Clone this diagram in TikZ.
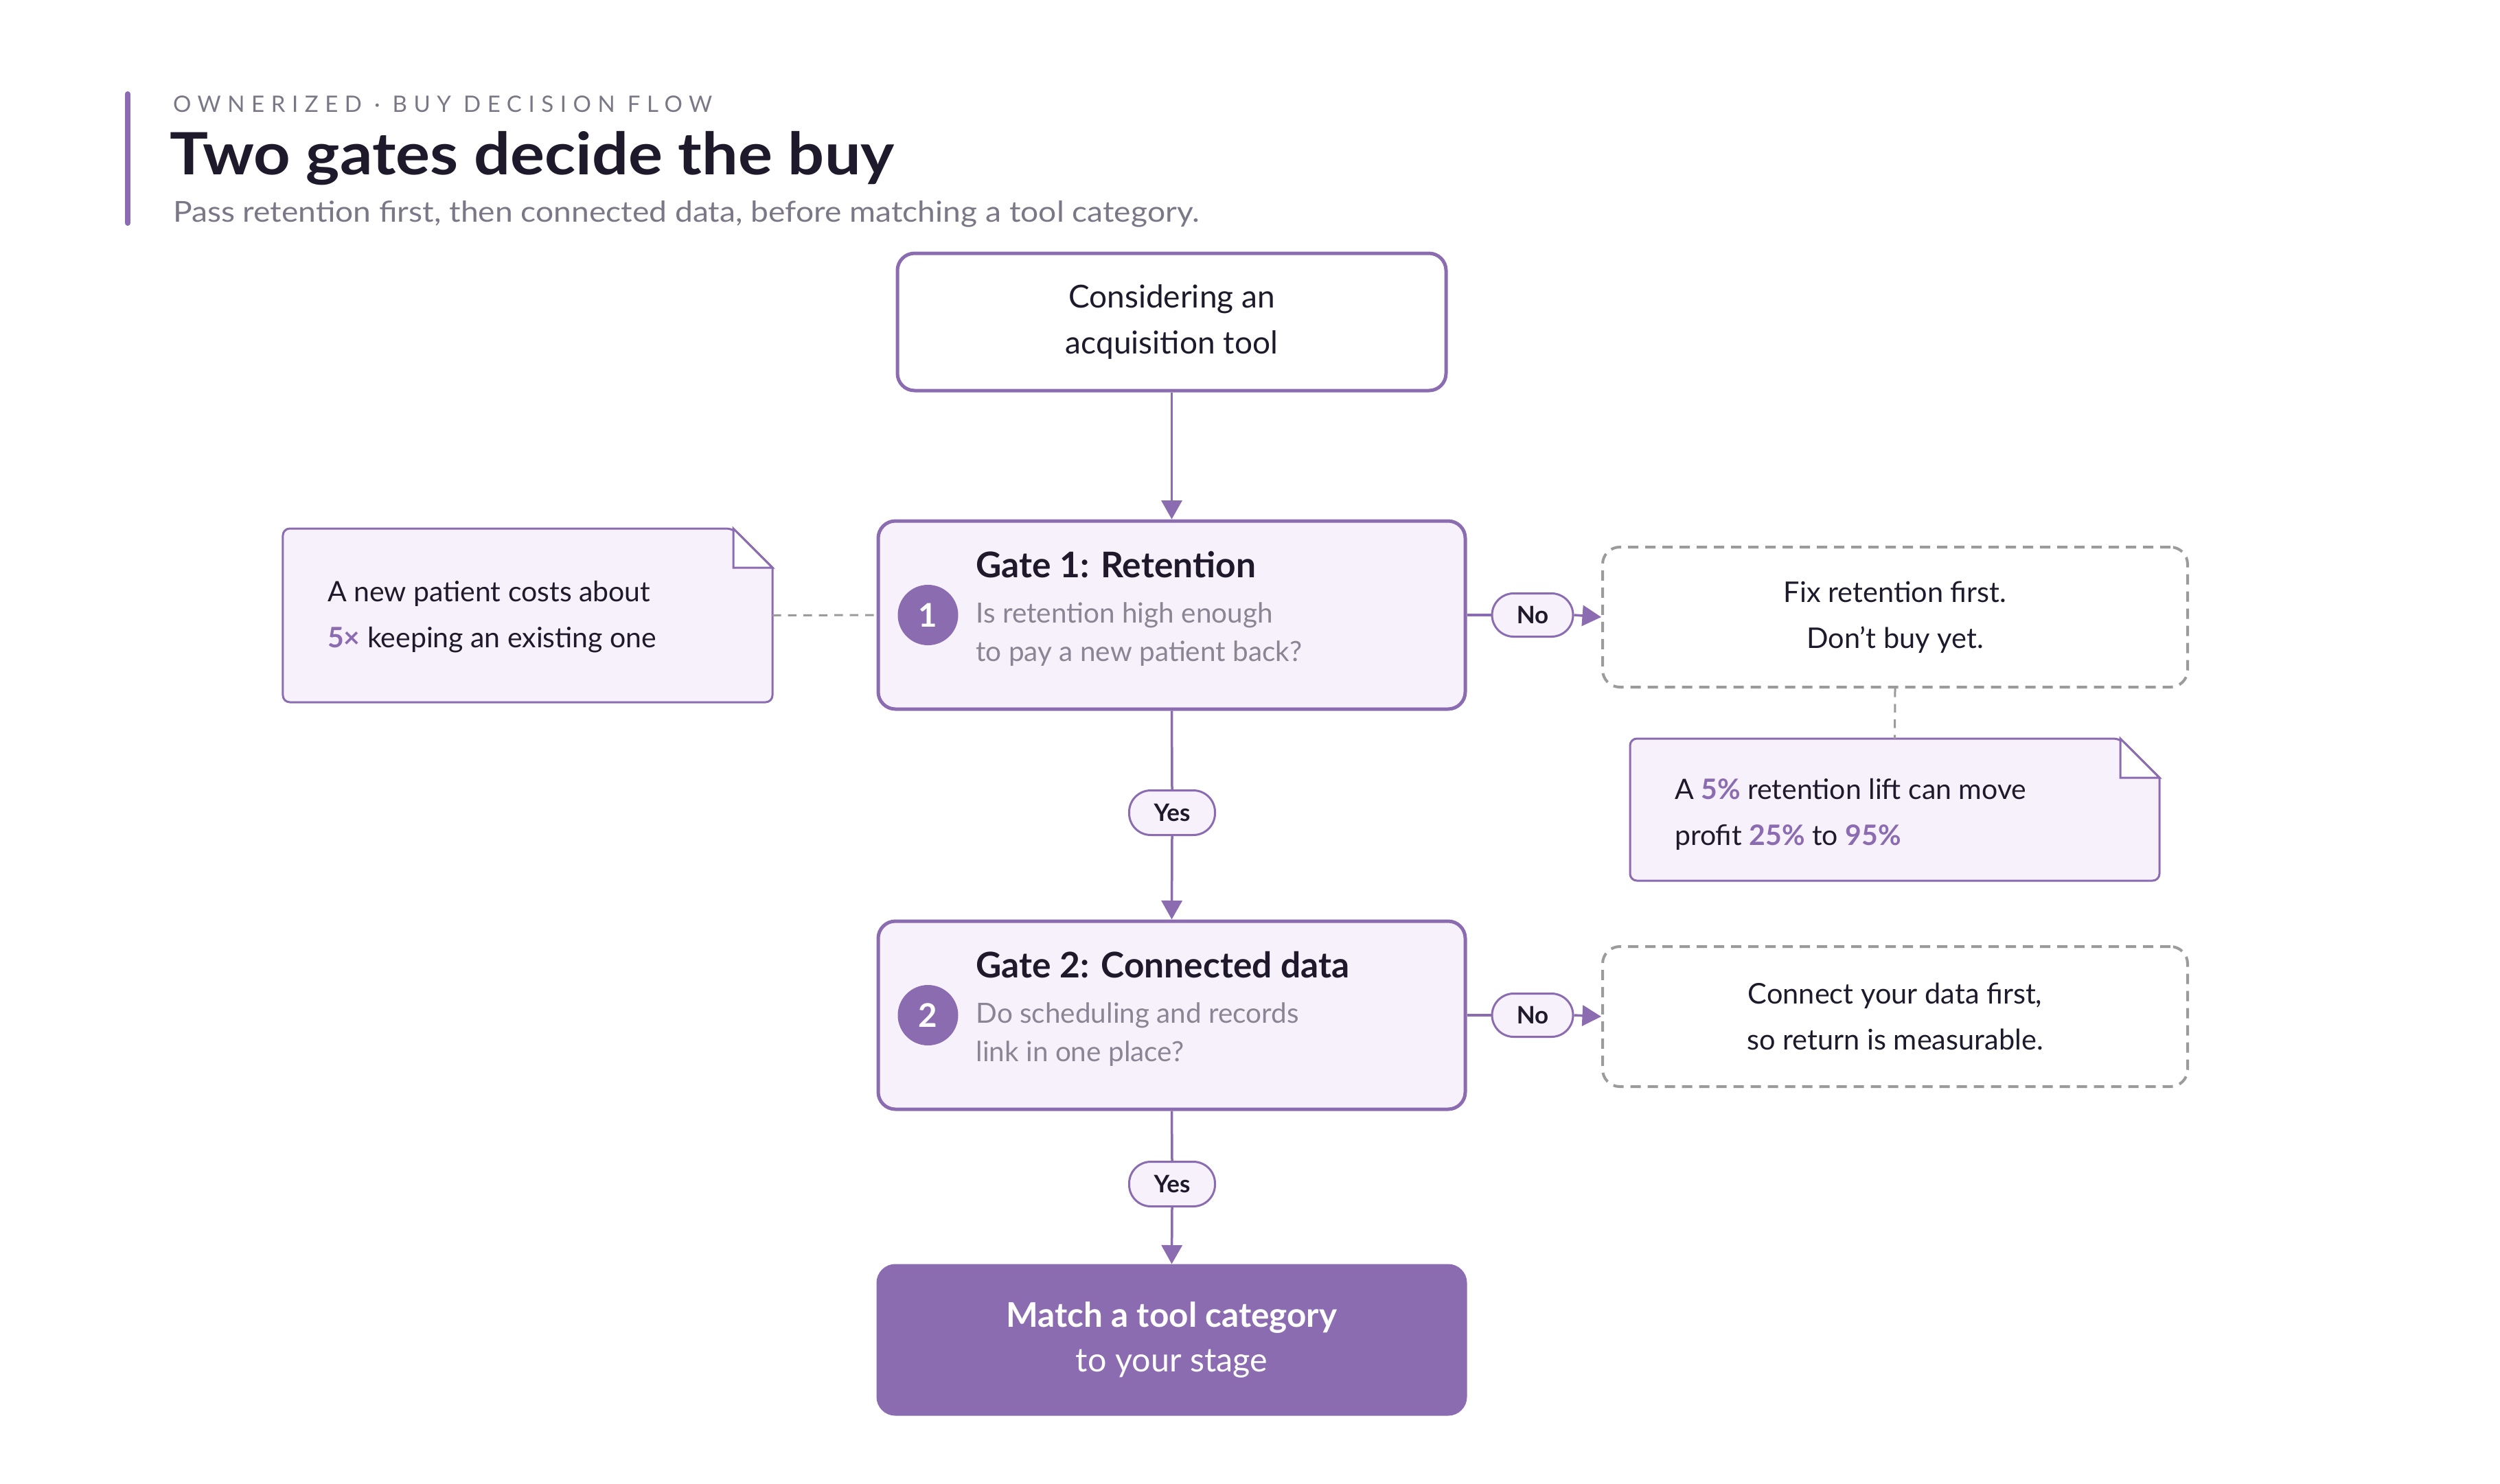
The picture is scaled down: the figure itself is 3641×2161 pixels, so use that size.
\documentclass[tikz,border=0pt]{standalone}
\usepackage{fontspec}
\setmainfont{Lato}
\usetikzlibrary{arrows.meta,calc,shapes.geometric}
\definecolor{purp}{HTML}{8C6CB1}
\definecolor{lightp}{HTML}{F6F1FB}
\definecolor{darktxt}{HTML}{1E1A2B}
\definecolor{graytxt}{HTML}{8A8494}
\definecolor{subgray}{HTML}{7C7786}
\definecolor{dashgray}{HTML}{9B9B9B}
\begin{document}
\begin{tikzpicture}[x=0.2pt,y=-0.2pt,
  box/.style={draw=purp,line width=1pt,rounded corners=5pt,inner sep=0pt,align=center},
  gatebox/.style={box,fill=lightp,minimum width=171pt,minimum height=54.8pt},
  dashbox/.style={draw=dashgray,dashed,dash pattern=on 3pt off 2pt,line width=0.8pt,rounded corners=5pt,minimum width=170.4pt,minimum height=40.8pt,align=center,font=\fontsize{8.3}{13.4}\selectfont,text=darktxt},
  pill/.style={draw=purp,fill=lightp,line width=0.6pt,rounded corners=6.3pt,inner sep=0pt,font=\fontsize{7}{8}\selectfont\bfseries,text=darktxt},
  badge/.style={circle,fill=purp,minimum size=17.6pt,inner sep=0pt,text=white,font=\fontsize{9.5}{10}\selectfont\bfseries},
  gtitle/.style={anchor=west,inner sep=0pt,font=\fontsize{10.3}{12}\selectfont\bfseries,text=darktxt},
  gsub/.style={anchor=west,inner sep=0pt,align=left,font=\fontsize{8.1}{11.2}\selectfont,text=graytxt},
  notebox/.style={inner sep=0pt,align=left,font=\fontsize{8.2}{13.4}\selectfont,text=darktxt},
  conn/.style={draw=purp,line width=0.7pt},
  arr/.style={conn,-{Triangle[width=6pt,length=5.5pt]}},
  dconn/.style={draw=dashgray,line width=0.6pt,dash pattern=on 2.5pt off 2pt},
]
\useasboundingbox (0,0) rectangle (3641,2161);
\fill[white] (0,0) rectangle (3641,2161);
% header
\draw[purp,line width=1.6pt,line cap=round] (186,137) -- (186,325);
\node[anchor=west,inner sep=0pt,text=subgray,font=\fontsize{6.6}{8}\selectfont\addfontfeatures{LetterSpace=29}] (kicker) at (251,152) {OWNERIZED · BUY DECISION FLOW};
\node[anchor=west,inner sep=0pt,text=darktxt,font=\fontsize{17}{20}\selectfont\bfseries] (title) at (246,231) {\scalebox{1.1}[1]{Two gates decide the buy}};
\node[anchor=west,inner sep=0pt,text=subgray,font=\fontsize{8.4}{10}\selectfont] (subtitle) at (251,312) {\scalebox{1.1}[1]{Pass retention first, then connected data, before matching a tool category.}};
% main boxes
\node[box,minimum width=159.8pt,minimum height=40pt,font=\fontsize{9.2}{13.4}\selectfont,text=darktxt] (start) at (1706.5,469) {Considering an\\acquisition tool};
\node[gatebox] (g1) at (1706.5,896) {};
\node[badge] (b1) at ($(g1.west)+(75,0)$) {1};
\node[gtitle] (t1) at ($(g1.west)+(144,-73)$) {Gate 1: Retention};
\node[gsub] (s1) at ($(g1.west)+(144,28)$) {Is retention high enough\\to pay a new patient back?};
\node[gatebox] (g2) at (1706.5,1479) {};
\node[badge] (b2) at ($(g2.west)+(75,0)$) {2};
\node[gtitle] (t2) at ($(g2.west)+(144,-73)$) {Gate 2: Connected data};
\node[gsub] (s2) at ($(g2.west)+(144,28)$) {Do scheduling and records\\link in one place?};
\node[box,fill=purp,draw=purp,minimum width=171pt,minimum height=43.2pt,text=white,font=\fontsize{9.7}{13}\selectfont] (final) at (1706.5,1952) {{\fontsize{9.9}{13}\selectfont\bfseries Match a tool category}\\to your stage};
% side boxes
\node[dashbox] (fix) at (2760,899) {Fix retention first.\\Don't buy yet.};
\node[dashbox] (cdata) at (2760,1481) {Connect your data first,\\so return is measurable.};
% notes
\node[minimum width=142.2pt,minimum height=50.2pt,inner sep=0pt] (n1) at (768.5,896.5) {};
\node[minimum width=153.8pt,minimum height=41pt,inner sep=0pt] (n2) at (2759.5,1179.5) {};
\foreach \n in {n1,n2}{
  \filldraw[draw=purp,fill=lightp,line width=0.6pt,rounded corners=2pt]
    (\n.south west) -- (\n.north west) -- ($(\n.north east)+(-57,0)$) [sharp corners]-- ($(\n.north east)+(0,57)$) [rounded corners=2pt]-- (\n.south east) -- cycle;
  \filldraw[draw=purp,fill=white,line width=0.6pt,line join=miter]
    ($(\n.north east)+(-57,0)$) -- ($(\n.north east)+(-57,57)$) -- ($(\n.north east)+(0,57)$) -- cycle;
}
\node[notebox,anchor=west] (n1t) at (476,899) {A new patient costs about\\{\color{purp}\bfseries 5×} keeping an existing one};
\node[notebox,anchor=west] (n2t) at (2438,1186) {A {\color{purp}\bfseries 5\%} retention lift can move\\profit {\color{purp}\bfseries 25\%} to {\color{purp}\bfseries 95\%}};
% pills
\node[pill,minimum width=23.6pt,minimum height=12.6pt] (no1) at (2232,896) {No};
\node[pill,minimum width=23.6pt,minimum height=12.6pt] (no2) at (2232,1479) {No};
\node[pill,minimum width=25pt,minimum height=13pt] (yes1) at (1707,1184) {Yes};
\node[pill,minimum width=25pt,minimum height=13pt] (yes2) at (1707,1725) {Yes};
% connectors
\draw[arr] (start.south) -- (g1.north);
\draw[conn] (g1.south) -- (yes1.north);
\draw[arr] (yes1.south) -- (g2.north);
\draw[conn] (g2.south) -- (yes2.north);
\draw[arr] (yes2.south) -- (final.north);
\draw[conn] (g1.east) -- (no1.west);
\draw[arr] (no1.east) -- (fix.west);
\draw[conn] (g2.east) -- (no2.west);
\draw[arr] (no2.east) -- (cdata.west);
\draw[dconn] (n1.east) -- (g1.west);
\draw[dconn] (fix.south) -- (n2.north);
\end{tikzpicture}
\end{document}
